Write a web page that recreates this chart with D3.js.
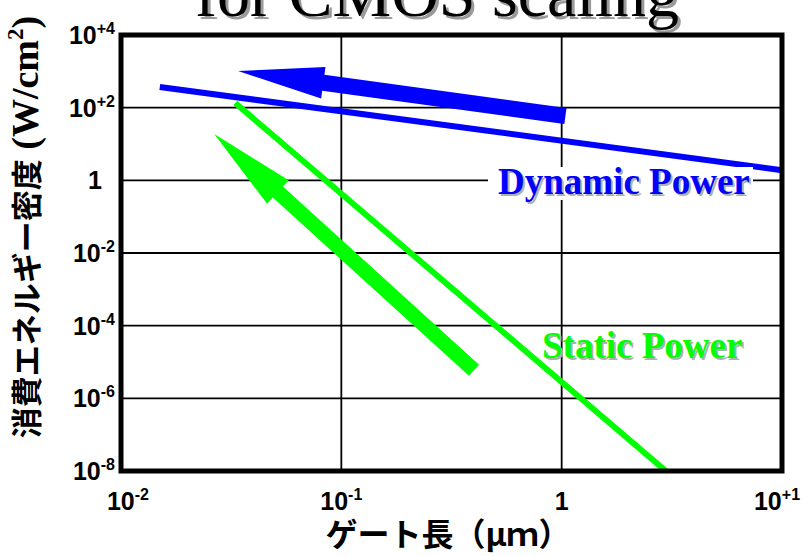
<!DOCTYPE html>
<html lang="ja">
<head>
  <meta charset="UTF-8">
  <title>Power density vs gate length</title>
  <script src="https://cdnjs.cloudflare.com/ajax/libs/d3/7.8.5/d3.min.js"></script>
  <style>
    body { margin: 0; background: #fff; }
    #chart { width: 808px; height: 556px; }
    .tick-label { font-family: "Liberation Sans", Arial, sans-serif; font-weight: bold; font-size: 25px; fill: #000; }
    .serif { font-family: "Liberation Serif", "Times New Roman", serif; font-weight: bold; }
    .jp { font-family: "Noto Sans CJK JP", sans-serif; font-weight: bold; }
  </style>
</head>
<body>
  <div id="chart"></div>
  <script>
    // axis ticks (decades) and their labels: [base, exponent]
    const xTicks = [1e-2, 1e-1, 1, 1e1];
    const xTickLabels = [["10", "-2"], ["10", "-1"], ["1", ""], ["10", "+1"]];
    const yTicks = [1e4, 1e2, 1, 1e-2, 1e-4, 1e-6, 1e-8];
    const yTickLabels = [["10", "+4"], ["10", "+2"], ["1", ""], ["10", "-2"], ["10", "-4"], ["10", "-6"], ["10", "-8"]];

    // trend lines: [gate length (um), power density (W/cm2)]
    const dynamicPower = [[0.015, 370], [10, 1.9]];
    const staticPower = [[0.033, 134], [2.97, 1e-8]];

    // scaling direction arrows: tail -> tip
    const dynamicArrow = [[1.04, 59], [0.034, 1020]];
    const staticArrow = [[0.40, 5.9e-6], [0.0265, 18.7]];

    const blue = "#0000ff", green = "#00ff00";

    const margin = {top: 35, right: 26, bottom: 85, left: 121};
    const W = 808, H = 556;
    const width = W - margin.left - margin.right;
    const height = H - margin.top - margin.bottom;

    const svg = d3.select("#chart").append("svg")
      .attr("width", W)
      .attr("height", H);

    const x = d3.scaleLog().domain([1e-2, 1e1]).range([margin.left, margin.left + width]);
    const y = d3.scaleLog().domain([1e-8, 1e4]).range([margin.top + height, margin.top]);

    // title (cut off at the top edge)
    const title = "for CMOS scaling";
    svg.append("text")
      .attr("class", "serif")
      .attr("x", 440).attr("y", 19)
      .attr("text-anchor", "middle")
      .style("font-weight", "normal").style("font-size", "66px")
      .attr("fill", "#9a9a9a")
      .text(title);
    svg.append("text")
      .attr("class", "serif")
      .attr("x", 437).attr("y", 16)
      .attr("text-anchor", "middle")
      .style("font-weight", "normal").style("font-size", "66px")
      .attr("fill", "#000")
      .text(title);

    // grid
    const grid = svg.append("g").attr("stroke", "#000").attr("stroke-width", 1.8);
    grid.selectAll("line.v")
      .data(xTicks.slice(1, -1))
      .join("line")
      .attr("x1", d => x(d)).attr("x2", d => x(d))
      .attr("y1", margin.top).attr("y2", margin.top + height);
    grid.selectAll("line.h")
      .data(yTicks.slice(1, -1))
      .join("line")
      .attr("y1", d => y(d)).attr("y2", d => y(d))
      .attr("x1", margin.left).attr("x2", margin.left + width);

    // tick labels
    const yl = svg.append("g").selectAll("text")
      .data(yTicks)
      .join("text")
      .attr("class", "tick-label")
      .attr("text-anchor", "end")
      .attr("x", (d, i) => yTickLabels[i][1] ? 115 : 102)
      .attr("y", d => y(d) + 9);
    yl.append("tspan").text((d, i) => yTickLabels[i][0]);
    yl.append("tspan")
      .attr("dy", -10)
      .style("font-size", "16px")
      .text((d, i) => yTickLabels[i][1]);

    const xl = svg.append("g").selectAll("text")
      .data(xTicks)
      .join("text")
      .attr("class", "tick-label")
      .attr("text-anchor", "middle")
      .attr("x", (d, i) => x(d) + (i === 0 ? 7 : i === 3 ? -5 : 0))
      .attr("y", 510);
    xl.append("tspan").text((d, i) => xTickLabels[i][0]);
    xl.append("tspan")
      .attr("dy", -10)
      .style("font-size", "16px")
      .text((d, i) => xTickLabels[i][1]);

    // lines
    const line = d3.line().x(d => x(d[0])).y(d => y(d[1]));
    svg.append("path").datum(dynamicPower)
      .attr("d", line).attr("fill", "none")
      .attr("stroke", blue).attr("stroke-width", 6);
    svg.append("path").datum(staticPower)
      .attr("d", line).attr("fill", "none")
      .attr("stroke", green).attr("stroke-width", 6);

    // block arrows
    function arrowPath(pts, shaft = 8, head = 16, headLen = 86) {
      const [tx, ty] = [x(pts[0][0]), y(pts[0][1])];
      const [px, py] = [x(pts[1][0]), y(pts[1][1])];
      const len = Math.hypot(px - tx, py - ty);
      const ux = (px - tx) / len, uy = (py - ty) / len;
      const nx = -uy, ny = ux;
      const bx = px - ux * headLen, by = py - uy * headLen;
      const p = [
        [tx + nx * shaft, ty + ny * shaft],
        [bx + nx * shaft, by + ny * shaft],
        [bx + nx * head, by + ny * head],
        [px, py],
        [bx - nx * head, by - ny * head],
        [bx - nx * shaft, by - ny * shaft],
        [tx - nx * shaft, ty - ny * shaft]
      ];
      return "M" + p.map(q => q.join(",")).join("L") + "Z";
    }
    svg.append("path").attr("d", arrowPath(dynamicArrow)).attr("fill", blue);
    svg.append("path").attr("d", arrowPath(staticArrow, 7.5, 16)).attr("fill", green);

    // series labels
    svg.append("rect")
      .attr("x", 488).attr("y", 167).attr("width", 265).attr("height", 33)
      .attr("fill", "#fff");
    function label(txt, lx, ly, color) {
      svg.append("text").attr("class", "serif")
        .attr("x", lx + 2).attr("y", ly + 2)
        .style("font-size", "37px").attr("fill", "#b0b0b0").text(txt);
      svg.append("text").attr("class", "serif")
        .attr("x", lx).attr("y", ly)
        .style("font-size", "37px").attr("fill", color).text(txt);
    }
    label("Dynamic Power", 498, 194, blue);
    label("Static Power", 542, 358, green);

    // frame
    svg.append("rect")
      .attr("x", margin.left).attr("y", margin.top)
      .attr("width", width).attr("height", height)
      .attr("fill", "none").attr("stroke", "#000").attr("stroke-width", 5);

    // axis titles
    const yt = svg.append("text")
      .attr("text-anchor", "middle")
      .attr("transform", `translate(38,${margin.top + 192}) rotate(-90)`);
    yt.append("tspan").attr("class", "jp").style("font-size", "31px").text("消費エネルギー密度");
    yt.append("tspan").attr("class", "serif").style("font-size", "38px").text(" (W/cm");
    yt.append("tspan").attr("class", "serif").style("font-size", "23px").attr("dy", -15).text("2");
    yt.append("tspan").attr("class", "serif").style("font-size", "38px").attr("dy", 15).text(")");

    svg.append("text")
      .attr("class", "jp")
      .attr("x", 448).attr("y", 546)
      .attr("text-anchor", "middle")
      .style("font-size", "32px")
      .text("ゲート長（μｍ）");
  </script>
</body>
</html>
